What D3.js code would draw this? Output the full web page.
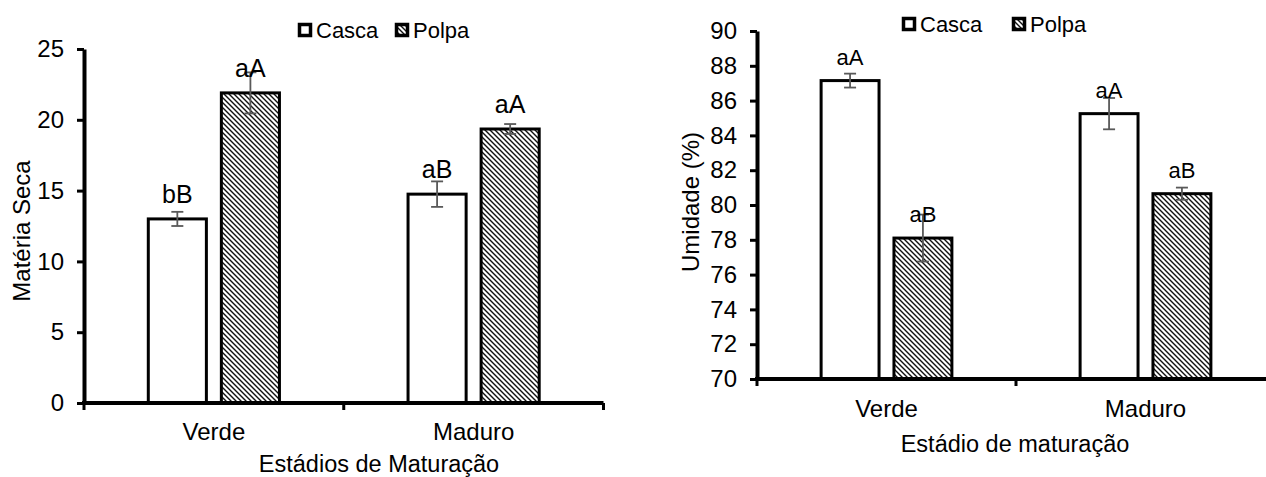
<!DOCTYPE html>
<html>
<head>
<meta charset="utf-8">
<script src="https://cdn.jsdelivr.net/npm/d3@7"></script>
<style>
  body { margin: 0; background: #fff; }
  svg text { font-family: "Liberation Sans", Arial, sans-serif; fill: #000; }
</style>
</head>
<body>
<div id="chart"></div>
<script>
// dados
var categorias = ["Verde", "Maduro"];
var series = ["Casca", "Polpa"];

// Matéria seca
var msCasca = [13.0, 14.75];
var msPolpa = [21.9, 19.35];
var msCascaErro = [0.5, 0.9];
var msPolpaErro = [1.45, 0.35];
var msLetrasCasca = ["bB", "aB"];
var msLetrasPolpa = ["aA", "aA"];
var msTicks = [0, 5, 10, 15, 20, 25];

// Umidade
var umCasca = [87.15, 85.25];
var umPolpa = [78.1, 80.65];
var umCascaErro = [0.4, 0.9];
var umPolpaErro = [1.35, 0.35];
var umLetrasCasca = ["aA", "aA"];
var umLetrasPolpa = ["aB", "aB"];
var umTicks = [70, 72, 74, 76, 78, 80, 82, 84, 86, 88, 90];

var svgWidth = 1266, svgHeight = 477;

var svg = d3.select("#chart").append("svg")
  .attr("width", svgWidth)
  .attr("height", svgHeight);

svg.append("rect").attr("width", svgWidth).attr("height", svgHeight).attr("fill", "#fff");

// hachura da polpa
var defs = svg.append("defs");
var pat = defs.append("pattern")
  .attr("id", "hatch")
  .attr("patternUnits", "userSpaceOnUse")
  .attr("width", 5)
  .attr("height", 5);
pat.append("rect").attr("width", 5).attr("height", 5).attr("fill", "#fff");
pat.append("path")
  .attr("d", "M-1,-1 L6,6 M4,-1 L6,1 M-1,4 L1,6")
  .attr("stroke", "#111")
  .attr("stroke-width", 1.4);

function makeRows(casca, polpa, eCasca, ePolpa, lCasca, lPolpa) {
  var rows = [];
  categorias.forEach(function(c, i) {
    rows.push({cat: c, serie: "Casca", v: casca[i], e: eCasca[i], l: lCasca[i]});
    rows.push({cat: c, serie: "Polpa", v: polpa[i], e: ePolpa[i], l: lPolpa[i]});
  });
  return rows;
}

function drawChart(cfg) {
  var g = svg.append("g");
  var rows = makeRows(cfg.casca, cfg.polpa, cfg.eCasca, cfg.ePolpa, cfg.lCasca, cfg.lPolpa);

  var x0 = d3.scaleBand().domain(categorias).range(cfg.xRange).padding(0);
  var x1 = d3.scaleBand().domain(series).range([0, x0.bandwidth()])
    .paddingInner(0.205).paddingOuter(0.88);
  var y = d3.scaleLinear().domain(cfg.yDomain).range(cfg.yRange);

  // barras
  g.selectAll("rect.bar")
    .data(rows)
    .enter()
    .append("rect")
    .attr("class", "bar")
    .attr("x", d => x0(d.cat) + x1(d.serie))
    .attr("y", d => y(d.v))
    .attr("width", x1.bandwidth())
    .attr("height", d => y(cfg.yDomain[0]) - y(d.v))
    .attr("fill", d => d.serie == "Casca" ? "#fff" : "url(#hatch)")
    .attr("stroke", "#000")
    .attr("stroke-width", 3);

  // barras de erro
  var eb = g.selectAll("g.err")
    .data(rows)
    .enter()
    .append("g")
    .attr("class", "err")
    .attr("stroke", "#595959")
    .attr("stroke-width", 1.8);
  eb.append("line")
    .attr("x1", d => x0(d.cat) + x1(d.serie) + x1.bandwidth() / 2)
    .attr("x2", d => x0(d.cat) + x1(d.serie) + x1.bandwidth() / 2)
    .attr("y1", d => y(d.v - d.e))
    .attr("y2", d => y(d.v + d.e));
  eb.append("line")
    .attr("x1", d => x0(d.cat) + x1(d.serie) + x1.bandwidth() / 2 - 6)
    .attr("x2", d => x0(d.cat) + x1(d.serie) + x1.bandwidth() / 2 + 6)
    .attr("y1", d => y(d.v + d.e))
    .attr("y2", d => y(d.v + d.e));
  eb.append("line")
    .attr("x1", d => x0(d.cat) + x1(d.serie) + x1.bandwidth() / 2 - 6)
    .attr("x2", d => x0(d.cat) + x1(d.serie) + x1.bandwidth() / 2 + 6)
    .attr("y1", d => y(d.v - d.e))
    .attr("y2", d => y(d.v - d.e));

  // letras
  g.selectAll("text.letra")
    .data(rows)
    .enter()
    .append("text")
    .attr("class", "letra")
    .attr("x", d => x0(d.cat) + x1(d.serie) + x1.bandwidth() / 2)
    .attr("y", d => y(d.v) - 16)
    .attr("text-anchor", "middle")
    .style("font-size", cfg.letraSize)
    .text(d => d.l);

  // eixo y
  var yAxis = d3.axisLeft(y).tickValues(cfg.ticks).tickSize(7).tickSizeOuter(0).tickPadding(13);
  var ya = g.append("g")
    .attr("transform", `translate(${cfg.xRange[0]},0)`)
    .call(yAxis);
  ya.select(".domain").attr("stroke", "#000").attr("stroke-width", 4);
  ya.selectAll(".tick line").attr("stroke", "#000").attr("stroke-width", 3);
  ya.selectAll(".tick text").style("font-size", "24px").attr("font-family", null);

  // eixo x
  var base = y(cfg.yDomain[0]);
  g.append("line")
    .attr("x1", cfg.xRange[0] - 2).attr("x2", cfg.xRange[1])
    .attr("y1", base).attr("y2", base)
    .attr("stroke", "#000").attr("stroke-width", 4);
  var bounds = categorias.map(c => x0(c)).concat([cfg.xRange[1]]);
  g.selectAll("line.xtick")
    .data(bounds)
    .enter()
    .append("line")
    .attr("class", "xtick")
    .attr("x1", d => d).attr("x2", d => d)
    .attr("y1", base).attr("y2", base + 7)
    .attr("stroke", "#000").attr("stroke-width", 3);
  g.selectAll("text.cat")
    .data(categorias)
    .enter()
    .append("text")
    .attr("class", "cat")
    .attr("x", d => x0(d) + x0.bandwidth() / 2)
    .attr("y", cfg.catY)
    .attr("text-anchor", "middle")
    .style("font-size", "24px")
    .text(d => d);

  // títulos
  g.append("text")
    .attr("x", cfg.xTitle[0]).attr("y", cfg.xTitle[1])
    .attr("text-anchor", "middle")
    .style("font-size", "23.5px")
    .text(cfg.xLabel);
  g.append("text")
    .attr("transform", `translate(${cfg.yTitle[0]},${cfg.yTitle[1]}) rotate(-90)`)
    .attr("text-anchor", "middle")
    .style("font-size", "24px")
    .text(cfg.yLabel);

  // legenda
  var leg = g.selectAll("g.leg")
    .data(series)
    .enter()
    .append("g")
    .attr("class", "leg")
    .attr("transform", (d, i) => `translate(${cfg.legX[i]},${cfg.legY})`);
  leg.append("rect")
    .attr("x", 1.5).attr("y", -5.5)
    .attr("width", 11).attr("height", 11)
    .attr("fill", d => d == "Casca" ? "#fff" : "url(#hatch)")
    .attr("stroke", "#000")
    .attr("stroke-width", 3.5);
  leg.append("text")
    .attr("x", 18).attr("y", 8)
    .style("font-size", "22px")
    .text(d => d);
}

drawChart({
  casca: msCasca, polpa: msPolpa, eCasca: msCascaErro, ePolpa: msPolpaErro,
  lCasca: msLetrasCasca, lPolpa: msLetrasPolpa, letraSize: "25px",
  xRange: [84, 603.5], yDomain: [0, 25], yRange: [403, 49], ticks: msTicks,
  catY: 440, xTitle: [379, 472], yTitle: [30, 231],
  xLabel: "Estádios de Maturação", yLabel: "Matéria Seca",
  legX: [298, 395], legY: 30
});

drawChart({
  casca: umCasca, polpa: umPolpa, eCasca: umCascaErro, ePolpa: umPolpaErro,
  lCasca: umLetrasCasca, lPolpa: umLetrasPolpa, letraSize: "22px",
  xRange: [757, 1275], yDomain: [70, 90], yRange: [379, 31], ticks: umTicks,
  catY: 417, xTitle: [1015, 452], yTitle: [699, 202],
  xLabel: "Estádio de maturação", yLabel: "Umidade (%)",
  legX: [902, 1012], legY: 24
});
</script>
</body>
</html>
